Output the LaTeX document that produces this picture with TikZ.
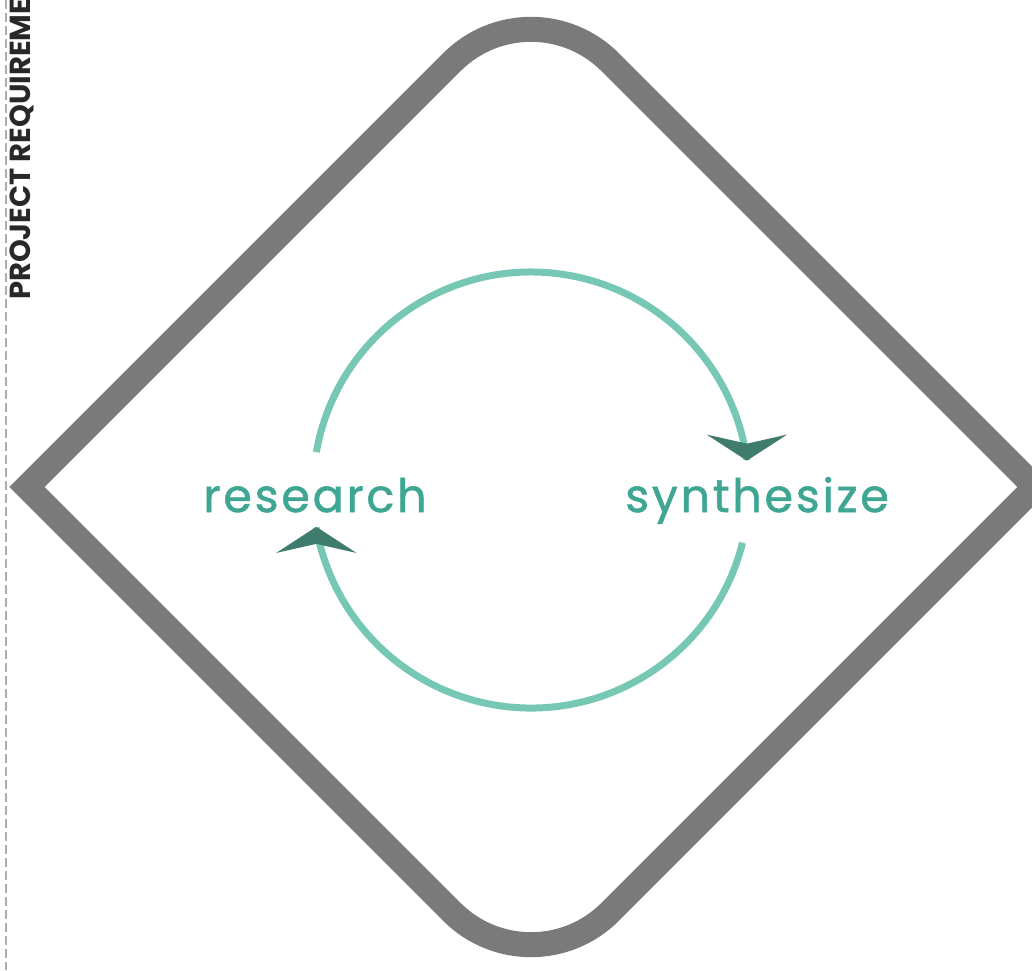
\documentclass[tikz,border=0pt]{standalone}
\usepackage{fontspec}
\setmainfont{Poppins}
\newfontfamily\labelfont{Poppins}[LetterSpace=6, FakeBold=1.2]
\usetikzlibrary{arrows.meta,calc}
\definecolor{framegray}{RGB}{122,122,122}
\definecolor{arcteal}{RGB}{118,200,180}
\definecolor{tipteal}{RGB}{64,124,110}
\definecolor{labelteal}{RGB}{62,166,146}
\definecolor{titlegray}{RGB}{40,40,40}
\definecolor{sepgray}{RGB}{180,172,172}

\begin{document}
\begin{tikzpicture}[%
    x=1pt, y=1pt,               % one unit is one pixel of the page
    >={Stealth[length=26pt, width=80pt, inset=9pt, color=tipteal]}]
% -------------------------------------------------
% Styles for the frame, the cycle and the texts
\tikzset{
  frame/.style={draw=framegray, line width=25pt, line join=miter},
  cyc/.style={->, draw=arcteal, line width=7pt},
  lbl/.style={font=\labelfont\fontsize{46}{50}\selectfont, text=labelteal,
    inner sep=0pt, anchor=base},
  ttl/.style={font=\bfseries\fontsize{29}{31}\selectfont, text=titlegray,
    inner sep=0pt, rotate=90, anchor=west},
  sepline/.style={draw=sepgray, line width=2.5pt, dash pattern=on 9pt off 4pt}
}
\clip (0,0) rectangle (1032,-970);
% -------------------------------------------------
% Corners of the diamond and centre of the cycle
\coordinate (lft) at (27,-487);
\coordinate (rgt) at (1035,-487);
\coordinate (tp)  at (531,17);
\coordinate (bt)  at (531,-991);
\coordinate (hub) at (531,-490);

% the diamond, rounded at top and bottom only
\draw [frame] (lft) -- ($(tp)!112pt!(lft)$)
  .. controls ($(tp)!50pt!(lft)$) and ($(tp)!50pt!(rgt)$) .. ($(tp)!112pt!(rgt)$)
  -- (rgt) -- ($(bt)!112pt!(rgt)$)
  .. controls ($(bt)!50pt!(rgt)$) and ($(bt)!50pt!(lft)$) .. ($(bt)!112pt!(lft)$)
  -- cycle;

% -------------------------------------------------
% The two steps
\node [lbl] (res) at (315,-512) {research};
\node [lbl] (syn) at (757,-512) {synthesize};

% the cycle between them
\draw [cyc] ($(hub)+(170:218)$) arc [start angle=170, end angle=8, radius=218]
  -- ++(0,-1);
\draw [cyc] ($(hub)+(-14:218)$) arc [start angle=-14, end angle=-170, radius=218]
  -- ++(0,1);

% -------------------------------------------------
% Side title and its dashed rule
\node [ttl] (req) at (22,-300) {PROJECT REQUIREME};
\coordinate (d0) at (6,0);
\coordinate (d1) at (6,-970);
\draw [sepline] (d0) -- (d1);
\end{tikzpicture}
\end{document}
